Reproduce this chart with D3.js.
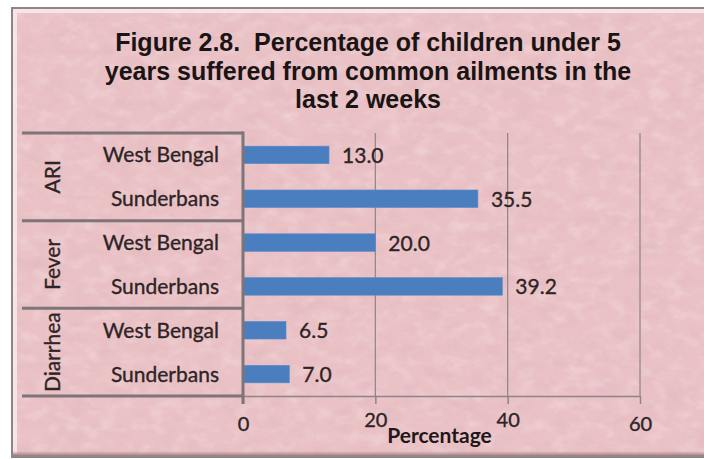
<!DOCTYPE html>
<html>
<head>
<meta charset="utf-8">
<script src="https://cdn.jsdelivr.net/npm/d3@7"></script>
<style>
  html, body { margin: 0; padding: 0; background: #ffffff; }
  svg { display: block; }
</style>
</head>
<body>
<svg id="chart" width="704" height="459"></svg>
<script>
// Ailment groups, the two regions inside each group, and the percentages
const groups = ["ARI", "Fever", "Diarrhea"];
const regions = ["West Bengal", "Sunderbans"];
const ariValues = [13.0, 35.5];
const feverValues = [20.0, 39.2];
const diarrheaValues = [6.5, 7.0];
const xTicks = [0, 20, 40, 60];
const titleLines = [
  "Figure 2.8.\u00a0\u00a0Percentage of children under 5",
  "years suffered from common ailments in the",
  "last 2 weeks"
];
const xTitle = "Percentage";

// One row per (group, region) pair, in drawing order
const groupValues = [ariValues, feverValues, diarrheaValues];
const rows = [];
groups.forEach((g, gi) => {
  regions.forEach((r, ri) => {
    rows.push({ key: g + "|" + r, group: g, region: r, value: groupValues[gi][ri] });
  });
});

const svg = d3.select("#chart");

// ---- paper texture and bevel definitions ----
const defs = svg.append("defs");
const paper = defs.append("filter").attr("id", "paper")
  .attr("x", 0).attr("y", 0).attr("width", "100%").attr("height", "100%");
paper.append("feTurbulence").attr("type", "fractalNoise")
  .attr("baseFrequency", "0.06 0.09").attr("numOctaves", 4).attr("seed", 7).attr("result", "n");
paper.append("feColorMatrix").attr("in", "n").attr("type", "matrix")
  .attr("values", "0 0 0 0 1  0 0 0 0 0.97  0 0 0 0 0.97  2.0 0 0 0 -0.95");

const paperDark = defs.append("filter").attr("id", "paperDark")
  .attr("x", 0).attr("y", 0).attr("width", "100%").attr("height", "100%");
paperDark.append("feTurbulence").attr("type", "fractalNoise")
  .attr("baseFrequency", "0.045 0.07").attr("numOctaves", 4).attr("seed", 21).attr("result", "n");
paperDark.append("feColorMatrix").attr("in", "n").attr("type", "matrix")
  .attr("values", "0 0 0 0 0.6  0 0 0 0 0.35  0 0 0 0 0.4  2.0 0 0 0 -0.9");

const bottomShade = defs.append("linearGradient").attr("id", "bottomShade")
  .attr("x1", 0).attr("y1", 0).attr("x2", 0).attr("y2", 1);
bottomShade.append("stop").attr("offset", "0%").attr("stop-color", "#8a7072").attr("stop-opacity", 0);
bottomShade.append("stop").attr("offset", "100%").attr("stop-color", "#6e5a5c").attr("stop-opacity", 0.85);

// ---- chart frame ----
const frame = { x: 12, y: 8, w: 712, h: 449 };
svg.append("rect").attr("x", frame.x).attr("y", frame.y)
  .attr("width", frame.w).attr("height", frame.h).attr("fill", "#eac2c6");
svg.append("rect").attr("x", frame.x).attr("y", frame.y)
  .attr("width", frame.w).attr("height", frame.h)
  .attr("filter", "url(#paper)").attr("opacity", 0.28);
svg.append("rect").attr("x", frame.x).attr("y", frame.y)
  .attr("width", frame.w).attr("height", frame.h)
  .attr("filter", "url(#paperDark)").attr("opacity", 0.22);
// bevel: light inner edge on top/left, shade at the bottom
svg.append("path")
  .attr("d", `M${frame.x + 3},${frame.y + frame.h - 4} V${frame.y + 3} H${frame.x + frame.w}`)
  .attr("fill", "none").attr("stroke", "#fbecee").attr("stroke-width", 4).attr("opacity", 0.8);
svg.append("rect").attr("x", frame.x).attr("y", frame.y + frame.h - 6)
  .attr("width", frame.w).attr("height", 6).attr("fill", "url(#bottomShade)");
svg.append("rect").attr("x", frame.x).attr("y", frame.y)
  .attr("width", frame.w).attr("height", frame.h)
  .attr("fill", "none").attr("stroke", "#8f8586").attr("stroke-width", 2);

// ---- title ----
const title = svg.append("text")
  .attr("text-anchor", "middle")
  .attr("font-family", "'Liberation Sans', Arial, sans-serif")
  .attr("font-weight", "bold").attr("font-size", 25)
  .attr("fill", "#1a1414");
const titleBaselines = [51, 79.5, 108];
titleLines.forEach((t, i) => {
  title.append("tspan").attr("x", 368).attr("y", titleBaselines[i]).text(t);
});

// ---- scales ----
const plot = { left: 243, right: 640, top: 133, bottom: 396 };
const x = d3.scaleLinear().domain([0, 60]).range([plot.left, plot.right]);
const y = d3.scaleBand().domain(rows.map(d => d.key))
  .range([plot.top, plot.bottom]).paddingInner(0.6).paddingOuter(0.3);

const labelFont = "Lato, 'Open Sans', sans-serif";
const textColor = "#2e2426";
// slightly heavier strokes for the regular-weight labels
const thicken = sel => sel.attr("stroke", textColor).attr("stroke-width", 0.35);

// ---- gridlines ----
svg.append("g").selectAll("line")
  .data(xTicks.filter(t => t > 0)).join("line")
  .attr("x1", d => x(d)).attr("x2", d => x(d))
  .attr("y1", plot.top).attr("y2", plot.bottom)
  .attr("stroke", "#8c8486").attr("stroke-width", 1.2);

// ---- bottom axis ----
const xAxis = svg.append("g")
  .attr("transform", `translate(0,${plot.bottom})`)
  .call(d3.axisBottom(x).tickValues(xTicks).tickSizeInner(8).tickSizeOuter(0).tickPadding(13)
    .tickFormat(d3.format("d")));
xAxis.select(".domain").attr("stroke", "#8c8486").attr("stroke-width", 1.5);
xAxis.selectAll(".tick line").attr("stroke", "#8c8486").attr("stroke-width", 1.5);
xAxis.selectAll(".tick text")
  .attr("font-family", labelFont).attr("font-size", 20).attr("fill", textColor)
  .call(thicken);
// the two middle tick labels sit a little higher, around the axis title
xAxis.selectAll(".tick text").filter(d => d > 0 && d < 60).attr("dy", "0.52em");

svg.append("text")
  .attr("x", (plot.left + plot.right) / 2 - 2).attr("y", 443)
  .attr("text-anchor", "middle")
  .attr("font-family", labelFont).attr("font-weight", "bold").attr("font-size", 21)
  .attr("fill", "#1f1719")
  .text(xTitle);

// ---- bars ----
svg.append("g").selectAll("rect")
  .data(rows).join("rect")
  .attr("x", x(0)).attr("y", d => y(d.key))
  .attr("width", d => x(d.value) - x(0))
  .attr("height", y.bandwidth())
  .attr("fill", "#4a7ebf").attr("stroke", "#5a8ccb").attr("stroke-width", 0.6);

// ---- value labels ----
svg.append("g").selectAll("text")
  .data(rows).join("text")
  .attr("x", d => x(d.value) + 13)
  .attr("y", d => y(d.key) + y.bandwidth() / 2)
  .attr("dy", "0.38em")
  .attr("font-family", labelFont).attr("font-size", 21).attr("fill", textColor)
  .call(thicken)
  .text(d => d.value.toFixed(1));

// ---- category axis: region labels, group labels, separators ----
const step = y.step();
const groupTop = g => plot.top + groups.indexOf(g) * regions.length * step;

svg.append("g").selectAll("text")
  .data(rows).join("text")
  .attr("x", 219)
  .attr("y", d => y(d.key) + y.bandwidth() / 2)
  .attr("dy", "0.36em")
  .attr("text-anchor", "end")
  .attr("font-family", labelFont).attr("font-size", 21).attr("fill", textColor)
  .call(thicken)
  .text(d => d.region);

svg.append("g").selectAll("text")
  .data(groups).join("text")
  .attr("transform", g => `translate(52.5,${groupTop(g) + regions.length * step / 2}) rotate(-90)`)
  .attr("dy", "0.36em")
  .attr("text-anchor", "middle")
  .attr("font-family", labelFont).attr("font-size", 21).attr("fill", textColor)
  .call(thicken)
  .text(g => g);

const sepYs = d3.range(groups.length + 1).map(i => plot.top + i * regions.length * step);
svg.append("g").selectAll("line")
  .data(sepYs).join("line")
  .attr("x1", 22).attr("x2", plot.left)
  .attr("y1", d => d).attr("y2", d => d)
  .attr("stroke", "#7d7577").attr("stroke-width", 3);

svg.append("line")
  .attr("x1", plot.left).attr("x2", plot.left)
  .attr("y1", plot.top - 1.5).attr("y2", plot.bottom + 8)
  .attr("stroke", "#7d7577").attr("stroke-width", 3);
</script>
</body>
</html>
